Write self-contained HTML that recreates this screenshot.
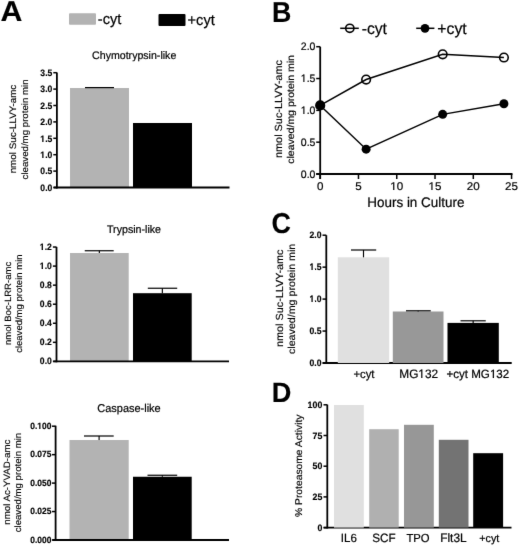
<!DOCTYPE html>
<html><head><meta charset="utf-8"><style>
html,body{margin:0;padding:0;background:#fff;}
body{width:520px;height:546px;overflow:hidden;}
svg{display:block;font-family:"Liberation Sans", sans-serif;will-change:transform;text-rendering:geometricPrecision;}
text{stroke:#000;stroke-width:0.2px;}
text[font-weight=bold]{stroke-width:0.15px;}
text.v{stroke-width:0.15px;}
</style></head><body>
<svg width="520" height="546" viewBox="0 0 520 546" font-family='"Liberation Sans", sans-serif' fill="#000">
<defs><filter id="bl" x="0" y="0" width="520" height="546" filterUnits="userSpaceOnUse" color-interpolation-filters="sRGB"><feConvolveMatrix order="3" kernelMatrix="0.00717 0.08466 0.00717 0.08466 1.00000 0.08466 0.00717 0.08466 0.00717" divisor="1.36730" edgeMode="duplicate" preserveAlpha="true"/></filter></defs>
<g filter="url(#bl)">
<rect x="0" y="0" width="520" height="546" fill="#fff"/>
<text transform="translate(0.55,20.70) scale(1.06,1)" font-size="28.6" font-weight="bold">A</text>
<text transform="translate(272.06,21.50) scale(0.93,1)" font-size="28.8" font-weight="bold">B</text>
<text transform="translate(271.40,233.00) scale(0.93,1)" font-size="28.8" font-weight="bold">C</text>
<text transform="translate(271.70,402.30) scale(0.97,1)" font-size="28.0" font-weight="bold">D</text>
<rect x="69" y="13.3" width="27" height="11.5" rx="1" fill="#b3b3b3"/>
<text transform="translate(97.80,24.20) scale(1,1.03)" font-size="14.6" text-anchor="start">-cyt</text>
<rect x="158.5" y="14.0" width="27" height="12" rx="1" fill="#000"/>
<text transform="translate(187.60,24.50) scale(1,1.03)" font-size="14.6" text-anchor="start">+cyt</text>
<text transform="translate(92.10,59.00) scale(1,1.03)" font-size="10.6" text-anchor="start">Chymotrypsin-like</text>
<rect x="70.00" y="88.00" width="59.00" height="99.50" fill="#b3b3b3"/>
<line x1="99.50" y1="87.60" x2="99.50" y2="88.00" stroke="#000" stroke-width="1.15"/>
<line x1="85.00" y1="87.60" x2="114.00" y2="87.60" stroke="#000" stroke-width="1.2"/>
<rect x="133.00" y="123.00" width="59.00" height="64.50" fill="#000"/>
<line x1="56.90" y1="72.40" x2="56.90" y2="188.40" stroke="#000" stroke-width="1.8"/>
<line x1="53.70" y1="187.50" x2="229.50" y2="187.50" stroke="#000" stroke-width="1.8"/>
<line x1="53.30" y1="187.50" x2="56.90" y2="187.50" stroke="#000" stroke-width="1.5"/>
<text transform="translate(52.30,190.70) scale(1,1.07)" font-size="8.6" font-weight="bold" text-anchor="end">0.0</text>
<line x1="53.30" y1="171.10" x2="56.90" y2="171.10" stroke="#000" stroke-width="1.5"/>
<text transform="translate(52.30,174.30) scale(1,1.07)" font-size="8.6" font-weight="bold" text-anchor="end">0.5</text>
<line x1="53.30" y1="154.70" x2="56.90" y2="154.70" stroke="#000" stroke-width="1.5"/>
<text transform="translate(52.30,157.90) scale(1,1.07)" font-size="8.6" font-weight="bold" text-anchor="end">1.0</text>
<line x1="53.30" y1="138.30" x2="56.90" y2="138.30" stroke="#000" stroke-width="1.5"/>
<text transform="translate(52.30,141.50) scale(1,1.07)" font-size="8.6" font-weight="bold" text-anchor="end">1.5</text>
<line x1="53.30" y1="121.90" x2="56.90" y2="121.90" stroke="#000" stroke-width="1.5"/>
<text transform="translate(52.30,125.10) scale(1,1.07)" font-size="8.6" font-weight="bold" text-anchor="end">2.0</text>
<line x1="53.30" y1="105.50" x2="56.90" y2="105.50" stroke="#000" stroke-width="1.5"/>
<text transform="translate(52.30,108.70) scale(1,1.07)" font-size="8.6" font-weight="bold" text-anchor="end">2.5</text>
<line x1="53.30" y1="89.10" x2="56.90" y2="89.10" stroke="#000" stroke-width="1.5"/>
<text transform="translate(52.30,92.30) scale(1,1.07)" font-size="8.6" font-weight="bold" text-anchor="end">3.0</text>
<line x1="53.30" y1="72.70" x2="56.90" y2="72.70" stroke="#000" stroke-width="1.5"/>
<text transform="translate(52.30,75.90) scale(1,1.07)" font-size="8.6" font-weight="bold" text-anchor="end">3.5</text>
<text transform="translate(16.30,129.05) rotate(-90) scale(1,0.95)" class="v" font-size="9.86" text-anchor="middle">nmol Suc-LLVY-amc</text>
<text transform="translate(27.80,129.40) rotate(-90) scale(1,0.95)" class="v" font-size="9.68" text-anchor="middle">cleaved/mg protein min</text>
<text transform="translate(107.00,232.70) scale(1,1.03)" font-size="10.65" text-anchor="start">Trypsin-like</text>
<rect x="70.00" y="253.00" width="58.70" height="108.40" fill="#b3b3b3"/>
<line x1="99.35" y1="250.75" x2="99.35" y2="253.00" stroke="#000" stroke-width="1.15"/>
<line x1="84.75" y1="250.75" x2="113.70" y2="250.75" stroke="#000" stroke-width="1.2"/>
<rect x="133.00" y="293.20" width="58.70" height="68.20" fill="#000"/>
<line x1="162.35" y1="288.25" x2="162.35" y2="293.20" stroke="#000" stroke-width="1.15"/>
<line x1="147.80" y1="288.25" x2="177.20" y2="288.25" stroke="#000" stroke-width="1.2"/>
<line x1="56.50" y1="246.90" x2="56.50" y2="362.30" stroke="#000" stroke-width="1.8"/>
<line x1="53.30" y1="361.40" x2="229.00" y2="361.40" stroke="#000" stroke-width="1.8"/>
<line x1="52.90" y1="361.40" x2="56.50" y2="361.40" stroke="#000" stroke-width="1.5"/>
<text transform="translate(51.80,364.15) scale(1,1.07)" font-size="8.6" font-weight="bold" text-anchor="end">0.0</text>
<line x1="52.90" y1="342.34" x2="56.50" y2="342.34" stroke="#000" stroke-width="1.5"/>
<text transform="translate(51.80,345.09) scale(1,1.07)" font-size="8.6" font-weight="bold" text-anchor="end">0.2</text>
<line x1="52.90" y1="323.28" x2="56.50" y2="323.28" stroke="#000" stroke-width="1.5"/>
<text transform="translate(51.80,326.03) scale(1,1.07)" font-size="8.6" font-weight="bold" text-anchor="end">0.4</text>
<line x1="52.90" y1="304.22" x2="56.50" y2="304.22" stroke="#000" stroke-width="1.5"/>
<text transform="translate(51.80,306.97) scale(1,1.07)" font-size="8.6" font-weight="bold" text-anchor="end">0.6</text>
<line x1="52.90" y1="285.16" x2="56.50" y2="285.16" stroke="#000" stroke-width="1.5"/>
<text transform="translate(51.80,287.91) scale(1,1.07)" font-size="8.6" font-weight="bold" text-anchor="end">0.8</text>
<line x1="52.90" y1="266.10" x2="56.50" y2="266.10" stroke="#000" stroke-width="1.5"/>
<text transform="translate(51.80,268.85) scale(1,1.07)" font-size="8.6" font-weight="bold" text-anchor="end">1.0</text>
<line x1="52.90" y1="247.04" x2="56.50" y2="247.04" stroke="#000" stroke-width="1.5"/>
<text transform="translate(51.80,249.79) scale(1,1.07)" font-size="8.6" font-weight="bold" text-anchor="end">1.2</text>
<text transform="translate(11.30,303.45) rotate(-90) scale(1,0.95)" class="v" font-size="9.55" text-anchor="middle">nmol Boc-LRR-amc</text>
<text transform="translate(22.40,303.65) rotate(-90) scale(1,0.95)" class="v" font-size="9.52" text-anchor="middle">cleaved/mg protein min</text>
<text transform="translate(97.30,412.30) scale(1,1.03)" font-size="10.97" text-anchor="start">Caspase-like</text>
<rect x="69.50" y="440.00" width="59.20" height="100.00" fill="#b3b3b3"/>
<line x1="99.10" y1="436.00" x2="99.10" y2="440.00" stroke="#000" stroke-width="1.15"/>
<line x1="84.00" y1="436.00" x2="113.70" y2="436.00" stroke="#000" stroke-width="1.2"/>
<rect x="133.00" y="476.75" width="58.70" height="63.25" fill="#000"/>
<line x1="162.35" y1="475.25" x2="162.35" y2="476.75" stroke="#000" stroke-width="1.15"/>
<line x1="147.50" y1="475.25" x2="177.20" y2="475.25" stroke="#000" stroke-width="1.2"/>
<line x1="55.60" y1="425.70" x2="55.60" y2="540.90" stroke="#000" stroke-width="1.8"/>
<line x1="52.40" y1="540.00" x2="229.00" y2="540.00" stroke="#000" stroke-width="1.8"/>
<line x1="52.00" y1="540.00" x2="55.60" y2="540.00" stroke="#000" stroke-width="1.5"/>
<text transform="translate(51.35,542.60) scale(1,1.07)" font-size="8.45" font-weight="bold" text-anchor="end">0.000</text>
<line x1="52.00" y1="511.55" x2="55.60" y2="511.55" stroke="#000" stroke-width="1.5"/>
<text transform="translate(51.35,514.15) scale(1,1.07)" font-size="8.45" font-weight="bold" text-anchor="end">0.025</text>
<line x1="52.00" y1="483.10" x2="55.60" y2="483.10" stroke="#000" stroke-width="1.5"/>
<text transform="translate(51.35,485.70) scale(1,1.07)" font-size="8.45" font-weight="bold" text-anchor="end">0.050</text>
<line x1="52.00" y1="454.65" x2="55.60" y2="454.65" stroke="#000" stroke-width="1.5"/>
<text transform="translate(51.35,457.25) scale(1,1.07)" font-size="8.45" font-weight="bold" text-anchor="end">0.075</text>
<line x1="52.00" y1="426.20" x2="55.60" y2="426.20" stroke="#000" stroke-width="1.5"/>
<text transform="translate(51.35,428.80) scale(1,1.07)" font-size="8.45" font-weight="bold" text-anchor="end">0.100</text>
<text transform="translate(9.60,482.20) rotate(-90) scale(1,0.95)" class="v" font-size="9.71" text-anchor="middle">nmol Ac-YVAD-amc</text>
<text transform="translate(20.60,482.55) rotate(-90) scale(1,0.95)" class="v" font-size="9.65" text-anchor="middle">cleaved/mg protein min</text>
<line x1="340.20" y1="28.30" x2="358.80" y2="28.30" stroke="#000" stroke-width="1.5"/>
<circle cx="349.8" cy="28.3" r="4.1" fill="none" stroke="#000" stroke-width="1.6"/>
<text transform="translate(361.70,34.20) scale(1,1.03)" font-size="15.7" text-anchor="start">-cyt</text>
<line x1="416.20" y1="28.30" x2="434.40" y2="28.30" stroke="#000" stroke-width="1.5"/>
<circle cx="425.0" cy="28.3" r="4.4" fill="#000"/>
<text transform="translate(437.30,34.20) scale(1,1.03)" font-size="15.8" text-anchor="start">+cyt</text>
<line x1="320.20" y1="46.70" x2="320.20" y2="179.00" stroke="#000" stroke-width="1.8"/>
<line x1="316.20" y1="174.00" x2="512.48" y2="174.00" stroke="#000" stroke-width="1.8"/>
<line x1="316.20" y1="174.00" x2="320.20" y2="174.00" stroke="#000" stroke-width="1.5"/>
<text transform="translate(315.40,177.70) scale(1,1.03)" font-size="10.5" text-anchor="end">0.0</text>
<line x1="316.20" y1="142.18" x2="320.20" y2="142.18" stroke="#000" stroke-width="1.5"/>
<text transform="translate(315.40,145.88) scale(1,1.03)" font-size="10.5" text-anchor="end">0.5</text>
<line x1="316.20" y1="110.35" x2="320.20" y2="110.35" stroke="#000" stroke-width="1.5"/>
<text transform="translate(315.40,114.05) scale(1,1.03)" font-size="10.5" text-anchor="end">1.0</text>
<line x1="316.20" y1="78.53" x2="320.20" y2="78.53" stroke="#000" stroke-width="1.5"/>
<text transform="translate(315.40,82.23) scale(1,1.03)" font-size="10.5" text-anchor="end">1.5</text>
<line x1="316.20" y1="46.70" x2="320.20" y2="46.70" stroke="#000" stroke-width="1.5"/>
<text transform="translate(315.40,50.40) scale(1,1.03)" font-size="10.5" text-anchor="end">2.0</text>
<line x1="320.20" y1="174.00" x2="320.20" y2="179.00" stroke="#000" stroke-width="1.5"/>
<text transform="translate(320.20,189.90) scale(1,0.97)" font-size="11.6" text-anchor="middle">0</text>
<line x1="358.47" y1="174.00" x2="358.47" y2="179.00" stroke="#000" stroke-width="1.5"/>
<text transform="translate(358.47,189.90) scale(1,0.97)" font-size="11.6" text-anchor="middle">5</text>
<line x1="396.75" y1="174.00" x2="396.75" y2="179.00" stroke="#000" stroke-width="1.5"/>
<text transform="translate(396.75,189.90) scale(1,0.97)" font-size="11.6" text-anchor="middle">10</text>
<line x1="435.02" y1="174.00" x2="435.02" y2="179.00" stroke="#000" stroke-width="1.5"/>
<text transform="translate(435.02,189.90) scale(1,0.97)" font-size="11.6" text-anchor="middle">15</text>
<line x1="473.30" y1="174.00" x2="473.30" y2="179.00" stroke="#000" stroke-width="1.5"/>
<text transform="translate(473.30,189.90) scale(1,0.97)" font-size="11.6" text-anchor="middle">20</text>
<line x1="511.57" y1="174.00" x2="511.57" y2="179.00" stroke="#000" stroke-width="1.5"/>
<text transform="translate(511.57,189.90) scale(1,0.97)" font-size="11.6" text-anchor="middle">25</text>
<text transform="translate(367.30,206.80) scale(1,1.03)" font-size="13.45" text-anchor="start">Hours in Culture</text>
<text transform="translate(281.70,109.05) rotate(-90) scale(1,0.95)" class="v" font-size="10.88" text-anchor="middle">nmol Suc-LLVY-amc</text>
<text transform="translate(294.30,109.45) rotate(-90) scale(1,0.95)" class="v" font-size="10.51" text-anchor="middle">cleaved/mg protein min</text>
<polyline points="320.20,105.45 366.13,79.54 442.68,54.34 503.92,57.52" fill="none" stroke="#000" stroke-width="1.5"/>
<polyline points="320.20,105.45 366.13,149.18 442.68,114.36 503.92,103.73" fill="none" stroke="#000" stroke-width="1.5"/>
<circle cx="320.20" cy="105.45" r="4.3" fill="none" stroke="#000" stroke-width="1.6"/>
<circle cx="366.13" cy="79.54" r="4.3" fill="none" stroke="#000" stroke-width="1.6"/>
<circle cx="442.68" cy="54.34" r="4.3" fill="none" stroke="#000" stroke-width="1.6"/>
<circle cx="503.92" cy="57.52" r="4.3" fill="none" stroke="#000" stroke-width="1.6"/>
<circle cx="320.20" cy="105.45" r="4.5" fill="#000"/>
<circle cx="366.13" cy="149.18" r="4.5" fill="#000"/>
<circle cx="442.68" cy="114.36" r="4.5" fill="#000"/>
<circle cx="503.92" cy="103.73" r="4.5" fill="#000"/>
<line x1="326.30" y1="235.20" x2="326.30" y2="363.90" stroke="#000" stroke-width="1.8"/>
<line x1="322.70" y1="363.00" x2="511.70" y2="363.00" stroke="#000" stroke-width="1.8"/>
<line x1="322.50" y1="363.00" x2="326.30" y2="363.00" stroke="#000" stroke-width="1.5"/>
<text transform="translate(321.50,366.10) scale(1,1.08)" font-size="8.6" font-weight="bold" text-anchor="end">0.0</text>
<line x1="322.50" y1="331.05" x2="326.30" y2="331.05" stroke="#000" stroke-width="1.5"/>
<text transform="translate(321.50,334.15) scale(1,1.08)" font-size="8.6" font-weight="bold" text-anchor="end">0.5</text>
<line x1="322.50" y1="299.10" x2="326.30" y2="299.10" stroke="#000" stroke-width="1.5"/>
<text transform="translate(321.50,302.20) scale(1,1.08)" font-size="8.6" font-weight="bold" text-anchor="end">1.0</text>
<line x1="322.50" y1="267.15" x2="326.30" y2="267.15" stroke="#000" stroke-width="1.5"/>
<text transform="translate(321.50,270.25) scale(1,1.08)" font-size="8.6" font-weight="bold" text-anchor="end">1.5</text>
<line x1="322.50" y1="235.20" x2="326.30" y2="235.20" stroke="#000" stroke-width="1.5"/>
<text transform="translate(321.50,238.30) scale(1,1.08)" font-size="8.6" font-weight="bold" text-anchor="end">2.0</text>
<rect x="337.80" y="257.30" width="51.40" height="105.70" fill="#e0e0e0"/>
<line x1="363.50" y1="250.00" x2="363.50" y2="257.30" stroke="#000" stroke-width="1.15"/>
<line x1="351.00" y1="250.00" x2="376.20" y2="250.00" stroke="#000" stroke-width="1.2"/>
<rect x="392.80" y="311.50" width="50.70" height="51.50" fill="#989898"/>
<line x1="418.15" y1="310.80" x2="418.15" y2="311.50" stroke="#000" stroke-width="1.15"/>
<line x1="406.00" y1="310.80" x2="430.75" y2="310.80" stroke="#000" stroke-width="1.2"/>
<rect x="447.50" y="322.90" width="51.30" height="40.10" fill="#000"/>
<line x1="473.15" y1="320.80" x2="473.15" y2="322.90" stroke="#000" stroke-width="1.15"/>
<line x1="460.50" y1="320.80" x2="485.75" y2="320.80" stroke="#000" stroke-width="1.2"/>
<text transform="translate(363.90,377.80) scale(1,1.03)" font-size="11.3" text-anchor="middle">+cyt</text>
<text transform="translate(418.70,378.00) scale(1,1.03)" font-size="11.85" text-anchor="middle">MG132</text>
<text transform="translate(477.80,378.00) scale(1,1.03)" font-size="11.6" text-anchor="middle">+cyt MG132</text>
<text transform="translate(282.80,298.25) rotate(-90) scale(1,0.95)" class="v" font-size="10.82" text-anchor="middle">nmol Suc-LLVY-amc</text>
<text transform="translate(295.00,298.85) rotate(-90) scale(1,0.95)" class="v" font-size="10.68" text-anchor="middle">cleaved/mg protein min</text>
<line x1="327.30" y1="404.60" x2="327.30" y2="528.50" stroke="#000" stroke-width="1.8"/>
<line x1="323.70" y1="527.60" x2="511.50" y2="527.60" stroke="#000" stroke-width="1.8"/>
<line x1="323.50" y1="527.60" x2="327.30" y2="527.60" stroke="#000" stroke-width="1.5"/>
<text transform="translate(322.30,530.60) scale(1,1.05)" font-size="8.8" font-weight="bold" text-anchor="end">0</text>
<line x1="323.50" y1="496.90" x2="327.30" y2="496.90" stroke="#000" stroke-width="1.5"/>
<text transform="translate(322.30,499.90) scale(1,1.05)" font-size="8.8" font-weight="bold" text-anchor="end">25</text>
<line x1="323.50" y1="466.20" x2="327.30" y2="466.20" stroke="#000" stroke-width="1.5"/>
<text transform="translate(322.30,469.20) scale(1,1.05)" font-size="8.8" font-weight="bold" text-anchor="end">50</text>
<line x1="323.50" y1="435.50" x2="327.30" y2="435.50" stroke="#000" stroke-width="1.5"/>
<text transform="translate(322.30,438.50) scale(1,1.05)" font-size="8.8" font-weight="bold" text-anchor="end">75</text>
<line x1="323.50" y1="404.80" x2="327.30" y2="404.80" stroke="#000" stroke-width="1.5"/>
<text transform="translate(322.30,407.80) scale(1,1.05)" font-size="8.8" font-weight="bold" text-anchor="end">100</text>
<rect x="334.00" y="405.00" width="29.80" height="122.60" fill="#e0e0e0"/>
<text transform="translate(348.80,541.80) scale(1,1.03)" font-size="11.5" text-anchor="middle">IL6</text>
<rect x="369.20" y="429.20" width="29.50" height="98.40" fill="#b0b0b0"/>
<text transform="translate(384.00,541.80) scale(1,1.03)" font-size="11.7" text-anchor="middle">SCF</text>
<rect x="404.00" y="424.80" width="29.80" height="102.80" fill="#979797"/>
<text transform="translate(418.00,541.80) scale(1,1.03)" font-size="11.3" text-anchor="middle">TPO</text>
<rect x="438.80" y="439.80" width="29.70" height="87.80" fill="#737373"/>
<text transform="translate(453.40,541.80) scale(1,1.03)" font-size="11.9" text-anchor="middle">Flt3L</text>
<rect x="473.20" y="453.20" width="29.90" height="74.40" fill="#000"/>
<text transform="translate(489.25,541.80) scale(1,1.03)" font-size="10.8" text-anchor="middle">+cyt</text>
<text transform="translate(301.90,465.75) rotate(-90) scale(1,0.95)" class="v" font-size="10.3" text-anchor="middle">% Proteasome Activity</text>
<rect x="40" y="157" width="2" height="1" fill="#fff"/>
<rect x="44" y="157" width="1" height="1" fill="#fff"/>
<rect x="42" y="157" width="1" height="1" fill="#fff" fill-opacity="0.224"/>
<rect x="43" y="157" width="1" height="1" fill="#fff" fill-opacity="0.49"/>
<rect x="40" y="141" width="2" height="1" fill="#fff"/>
<rect x="44" y="141" width="1" height="1" fill="#fff"/>
<rect x="42" y="141" width="1" height="1" fill="#fff" fill-opacity="0.224"/>
<rect x="43" y="141" width="1" height="1" fill="#fff" fill-opacity="0.49"/>
<rect x="40" y="268" width="1" height="1" fill="#fff"/>
<rect x="43" y="268" width="2" height="1" fill="#fff"/>
<rect x="41" y="268" width="1" height="1" fill="#fff" fill-opacity="0.631"/>
<rect x="40" y="249" width="1" height="1" fill="#fff"/>
<rect x="43" y="249" width="2" height="1" fill="#fff"/>
<rect x="41" y="249" width="1" height="1" fill="#fff" fill-opacity="0.631"/>
<rect x="37" y="428" width="2" height="1" fill="#fff"/>
<rect x="41" y="428" width="1" height="1" fill="#fff"/>
<rect x="39" y="428" width="1" height="1" fill="#fff" fill-opacity="0.2"/>
<rect x="40" y="428" width="1" height="1" fill="#fff" fill-opacity="0.537"/>
<rect x="301" y="113" width="2" height="1" fill="#fff"/>
<rect x="305" y="113" width="2" height="1" fill="#fff"/>
<rect x="303" y="113" width="1" height="1" fill="#fff" fill-opacity="0.243"/>
<rect x="304" y="113" width="1" height="1" fill="#fff" fill-opacity="0.468"/>
<rect x="301" y="81" width="2" height="1" fill="#fff"/>
<rect x="305" y="81" width="2" height="1" fill="#fff"/>
<rect x="303" y="81" width="1" height="1" fill="#fff" fill-opacity="0.243"/>
<rect x="304" y="81" width="1" height="1" fill="#fff" fill-opacity="0.468"/>
<rect x="391" y="189" width="2" height="1" fill="#fff"/>
<rect x="395" y="189" width="2" height="1" fill="#fff"/>
<rect x="393" y="189" width="1" height="1" fill="#fff" fill-opacity="0.099"/>
<rect x="394" y="189" width="1" height="1" fill="#fff" fill-opacity="0.578"/>
<rect x="429" y="189" width="2" height="1" fill="#fff"/>
<rect x="433" y="189" width="3" height="1" fill="#fff"/>
<rect x="431" y="189" width="1" height="1" fill="#fff" fill-opacity="0.263"/>
<rect x="432" y="189" width="1" height="1" fill="#fff" fill-opacity="0.376"/>
<rect x="310" y="301" width="1" height="1" fill="#fff"/>
<rect x="313" y="301" width="2" height="1" fill="#fff"/>
<rect x="311" y="301" width="1" height="1" fill="#fff" fill-opacity="0.439"/>
<rect x="312" y="301" width="1" height="1" fill="#fff" fill-opacity="0.286"/>
<rect x="310" y="269" width="1" height="1" fill="#fff"/>
<rect x="313" y="269" width="2" height="1" fill="#fff"/>
<rect x="311" y="269" width="1" height="1" fill="#fff" fill-opacity="0.439"/>
<rect x="312" y="269" width="1" height="1" fill="#fff" fill-opacity="0.286"/>
<rect x="419" y="377" width="2" height="1" fill="#fff"/>
<rect x="423" y="377" width="2" height="1" fill="#fff"/>
<rect x="421" y="377" width="1" height="1" fill="#fff" fill-opacity="0.192"/>
<rect x="422" y="377" width="1" height="1" fill="#fff" fill-opacity="0.588"/>
<rect x="490" y="377" width="2" height="1" fill="#fff"/>
<rect x="494" y="377" width="2" height="1" fill="#fff"/>
<rect x="492" y="377" width="1" height="1" fill="#fff" fill-opacity="0.737"/>
</g>
</svg>
</body></html>
